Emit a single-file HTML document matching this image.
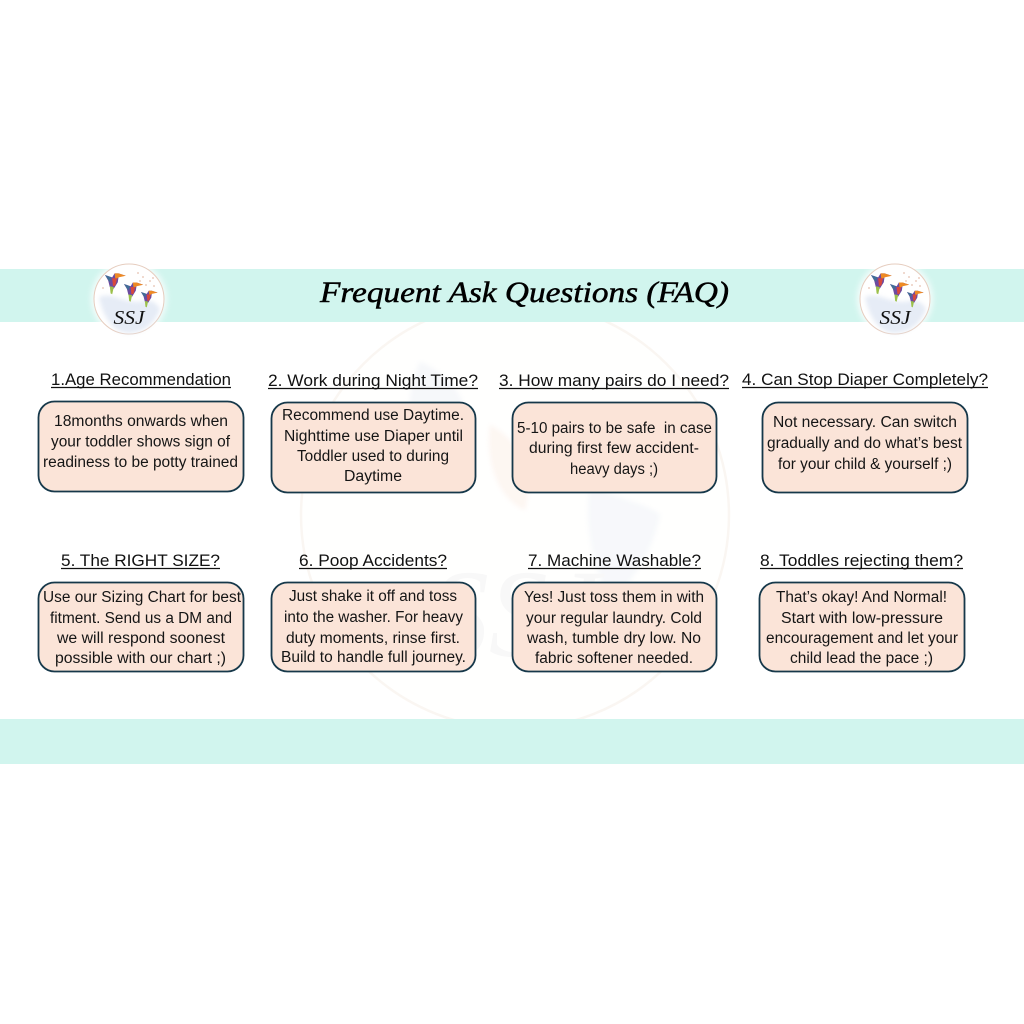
<!DOCTYPE html>
<html lang="en">
<head>
<meta charset="utf-8">
<title>Frequent Ask Questions (FAQ)</title>
<style>
html,body{margin:0;padding:0;background:#fff;width:1024px;height:1024px;overflow:hidden}
svg{display:block;position:absolute;left:0;top:0}
.h{font:16.5px "Liberation Sans",sans-serif;fill:#111}
.b{font:15.5px "Liberation Sans",sans-serif;fill:#151515}
.box{fill:#fbe4d8;stroke:#16384a;stroke-width:1.8}
.u{stroke:#111;stroke-width:1.2}
</style>
</head>
<body>
<svg width="1024" height="1024" viewBox="0 0 1024 1024" xmlns="http://www.w3.org/2000/svg">
<defs>
<filter id="s" x="-5%" y="-5%" width="110%" height="110%" color-interpolation-filters="sRGB"><feGaussianBlur stdDeviation="0.3"/></filter>
<filter id="g" x="-30%" y="-30%" width="160%" height="160%" color-interpolation-filters="sRGB"><feGaussianBlur stdDeviation="3"/></filter>
<filter id="w" x="-20%" y="-20%" width="140%" height="140%" color-interpolation-filters="sRGB"><feGaussianBlur stdDeviation="2"/></filter>
<g id="bird">
<path d="M0 0 L9 3 L12 -2 L17 -2 L26 1 L17 2 L16 9 L11 17 L6 15 L4 7 Z" fill="#6d4aa0"/>
<path d="M12 -2 L17 -2 L26 1 L17 3 L13 6 Z" fill="#ee8a24"/>
<path d="M9 4 L15 4 L13 13 L10 14 Z" fill="#d8483c"/>
<path d="M6 14 L11 15 L9 24 L7 23 Z" fill="#9cc04a"/>
<path d="M0 0 L8 3 L6 9 Z" fill="#3f6f96"/>
</g>
<g id="logo">
<circle cx="0" cy="0" r="38" fill="#fff" opacity=".75" filter="url(#g)"/>
<circle cx="0" cy="0" r="35" fill="#fff" stroke="#e6cdbf" stroke-width="1"/>
<path d="M-30 -2 C-16 -8 -4 6 14 2 C24 0 29 6 31 10 C26 26 12 34 0 34 C-16 34 -26 18 -30 -2Z" fill="#e6ecf6" filter="url(#w)"/>
<g fill="#e6c0ae"><circle cx="14" cy="-22" r=".9"/><circle cx="21" cy="-18" r=".9"/><circle cx="25" cy="-13" r=".9"/><circle cx="17" cy="-14" r=".9"/><circle cx="9" cy="-26" r=".9"/><circle cx="-26" cy="-11" r=".9"/><circle cx="24" cy="-21" r=".9"/><circle cx="11" cy="-18" r=".9"/></g>
<use href="#bird" transform="translate(-24,-24) scale(.8)"/>
<use href="#bird" transform="translate(-5,-15) scale(.74)"/>
<use href="#bird" transform="translate(12,-7) scale(.64)"/>
<text x="0" y="25" text-anchor="middle" font-family="Liberation Serif,serif" font-style="italic" font-size="20" fill="#111" textLength="31" lengthAdjust="spacingAndGlyphs">SSJ</text>
</g>
</defs>

<!-- watermark -->
<g opacity=".6">
<circle cx="515" cy="515" r="214" fill="#fffffe" stroke="#f8f1ea" stroke-width="2.500"/>
<g filter="url(#w)">
<path d="M420 362 C445 372 470 395 470 440 C470 480 445 495 425 470 C405 440 405 395 420 362Z" fill="#f1f4f8"/>
<path d="M490 425 C520 440 535 475 525 510 C500 500 485 465 490 425Z" fill="#fdf2ea"/>
<path d="M590 485 C620 500 650 505 660 515 C650 560 625 590 610 600 C590 560 585 520 590 485Z" fill="#f2f5f9"/>
</g>
<text x="430" y="656" font-family="Liberation Serif,serif" font-style="italic" font-size="125" fill="#f4f4f4" textLength="170" lengthAdjust="spacingAndGlyphs">SSJ</text>
</g>

<g filter="url(#s)">
<rect x="0" y="269" width="1024" height="53" fill="#d1f5ee"/>
<rect x="0" y="719" width="1024" height="45" fill="#d1f5ee"/>

<use href="#logo" x="129" y="299"/>
<use href="#logo" x="895" y="299"/>

<text x="320" y="302" font-family="Liberation Serif,serif" font-style="italic" font-size="30" fill="#000" stroke="#000" stroke-width=".5" textLength="409" lengthAdjust="spacingAndGlyphs">Frequent Ask Questions (FAQ)</text>

<!-- headings -->
<text class="h" x="51" y="385" textLength="180" lengthAdjust="spacingAndGlyphs">1.Age Recommendation</text><line class="u" x1="51" x2="231" y1="387.5" y2="387.5"/>
<text class="h" x="268" y="386" textLength="210" lengthAdjust="spacingAndGlyphs">2. Work during Night Time?</text><line class="u" x1="268" x2="478" y1="388.5" y2="388.5"/>
<text class="h" x="499" y="386" textLength="230" lengthAdjust="spacingAndGlyphs">3. How many pairs do I need?</text><line class="u" x1="499" x2="729" y1="388.5" y2="388.5"/>
<text class="h" x="742" y="385" textLength="246" lengthAdjust="spacingAndGlyphs">4. Can Stop Diaper Completely?</text><line class="u" x1="742" x2="988" y1="387.5" y2="387.5"/>
<text class="h" x="61" y="566" textLength="159" lengthAdjust="spacingAndGlyphs">5. The RIGHT SIZE?</text><line class="u" x1="61" x2="220" y1="568.5" y2="568.5"/>
<text class="h" x="299" y="566" textLength="148" lengthAdjust="spacingAndGlyphs">6. Poop Accidents?</text><line class="u" x1="299" x2="447" y1="568.5" y2="568.5"/>
<text class="h" x="528" y="566" textLength="173" lengthAdjust="spacingAndGlyphs">7. Machine Washable?</text><line class="u" x1="528" x2="701" y1="568.5" y2="568.5"/>
<text class="h" x="760" y="566" textLength="203" lengthAdjust="spacingAndGlyphs">8. Toddles rejecting them?</text><line class="u" x1="760" x2="963" y1="568.5" y2="568.5"/>

<!-- boxes -->
<rect class="box" x="38.500" y="401.500" width="205" height="90" rx="16"/>
<rect class="box" x="271.500" y="402.500" width="204" height="90" rx="16"/>
<rect class="box" x="512.500" y="402.500" width="204" height="90" rx="16"/>
<rect class="box" x="762.500" y="402.500" width="205" height="90" rx="16"/>
<rect class="box" x="38.500" y="582.500" width="205" height="89" rx="16"/>
<rect class="box" x="271.500" y="582.500" width="204" height="89" rx="16"/>
<rect class="box" x="512.500" y="582.500" width="204" height="89" rx="16"/>
<rect class="box" x="759.500" y="582.500" width="205" height="89" rx="16"/>

<!-- box text -->
<text class="b" x="54" y="426" textLength="174" lengthAdjust="spacingAndGlyphs">18months onwards when</text>
<text class="b" x="51" y="446.500" textLength="179" lengthAdjust="spacingAndGlyphs">your toddler shows sign of</text>
<text class="b" x="43" y="467" textLength="195" lengthAdjust="spacingAndGlyphs">readiness to be potty trained</text>

<text class="b" x="282" y="420" textLength="182" lengthAdjust="spacingAndGlyphs">Recommend use Daytime.</text>
<text class="b" x="284" y="441" textLength="179" lengthAdjust="spacingAndGlyphs">Nighttime use Diaper until</text>
<text class="b" x="297" y="461" textLength="152" lengthAdjust="spacingAndGlyphs">Toddler used to during</text>
<text class="b" x="344" y="481" textLength="58" lengthAdjust="spacingAndGlyphs">Daytime</text>

<text class="b" x="517" y="433" textLength="195" lengthAdjust="spacingAndGlyphs" xml:space="preserve">5-10 pairs to be safe  in case</text>
<text class="b" x="529" y="453" textLength="170" lengthAdjust="spacingAndGlyphs">during first few accident-</text>
<text class="b" x="570" y="474" textLength="88" lengthAdjust="spacingAndGlyphs">heavy days ;)</text>

<text class="b" x="773" y="427" textLength="184" lengthAdjust="spacingAndGlyphs">Not necessary. Can switch</text>
<text class="b" x="767" y="448" textLength="195" lengthAdjust="spacingAndGlyphs">gradually and do what’s best</text>
<text class="b" x="778" y="469" textLength="174" lengthAdjust="spacingAndGlyphs">for your child &amp; yourself ;)</text>

<text class="b" x="43" y="602" textLength="198" lengthAdjust="spacingAndGlyphs">Use our Sizing Chart for best</text>
<text class="b" x="50" y="623" textLength="182" lengthAdjust="spacingAndGlyphs">fitment. Send us a DM and</text>
<text class="b" x="57" y="643" textLength="168" lengthAdjust="spacingAndGlyphs">we will respond soonest</text>
<text class="b" x="55" y="663" textLength="171" lengthAdjust="spacingAndGlyphs">possible with our chart ;)</text>

<text class="b" x="289" y="601" textLength="168" lengthAdjust="spacingAndGlyphs">Just shake it off and toss</text>
<text class="b" x="284" y="622" textLength="179" lengthAdjust="spacingAndGlyphs">into the washer. For heavy</text>
<text class="b" x="286" y="643" textLength="174" lengthAdjust="spacingAndGlyphs">duty moments, rinse first.</text>
<text class="b" x="281" y="662" textLength="185" lengthAdjust="spacingAndGlyphs">Build to handle full journey.</text>

<text class="b" x="524" y="602" textLength="180" lengthAdjust="spacingAndGlyphs">Yes! Just toss them in with</text>
<text class="b" x="526" y="623" textLength="176" lengthAdjust="spacingAndGlyphs">your regular laundry. Cold</text>
<text class="b" x="527" y="643" textLength="174" lengthAdjust="spacingAndGlyphs">wash, tumble dry low. No</text>
<text class="b" x="535" y="663" textLength="158" lengthAdjust="spacingAndGlyphs">fabric softener needed.</text>

<text class="b" x="776" y="602" textLength="171" lengthAdjust="spacingAndGlyphs">That’s okay! And Normal!</text>
<text class="b" x="781" y="623" textLength="162" lengthAdjust="spacingAndGlyphs">Start with low-pressure</text>
<text class="b" x="766" y="643" textLength="192" lengthAdjust="spacingAndGlyphs">encouragement and let your</text>
<text class="b" x="790" y="663" textLength="143" lengthAdjust="spacingAndGlyphs">child lead the pace ;)</text>
</g>
</svg>
</body>
</html>
